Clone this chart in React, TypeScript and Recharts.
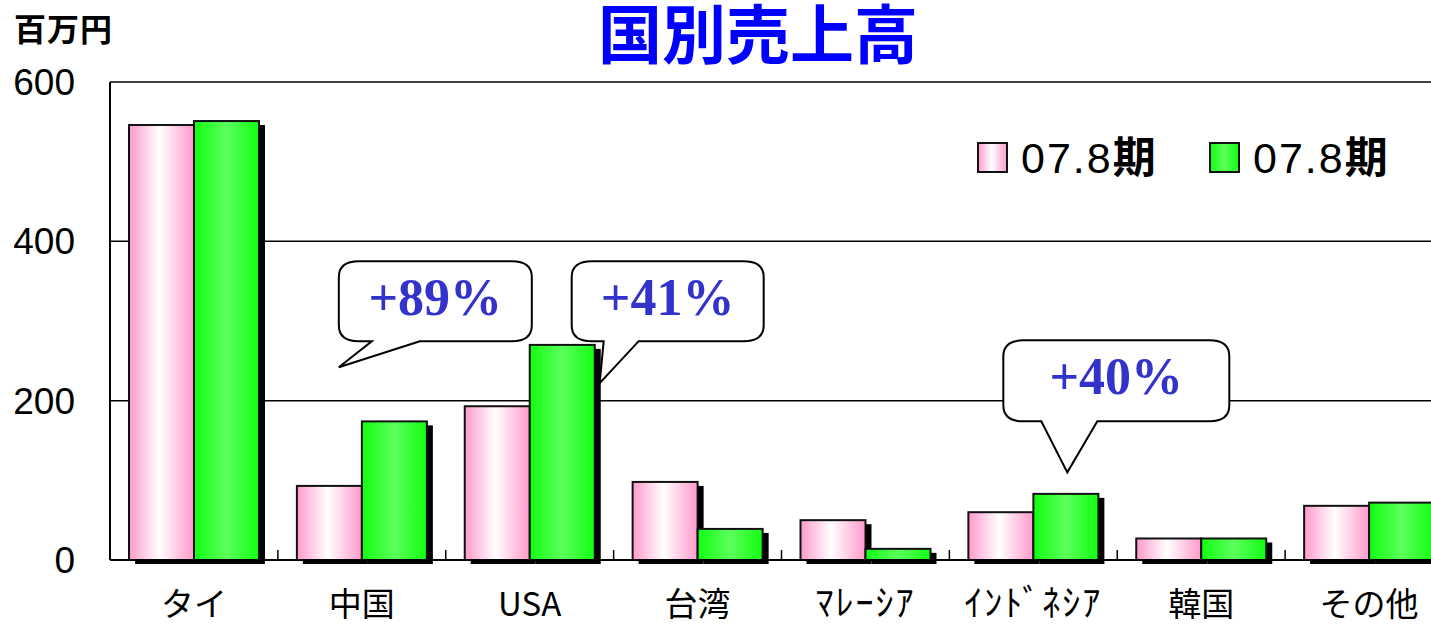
import React from 'react';
import { BarChart, Bar, XAxis, YAxis, CartesianGrid, ReferenceDot } from 'recharts';

// ---------- data ----------
const categories = ['タイ', '中国', 'USA', '台湾', 'ﾏﾚｰｼｱ', 'ｲﾝﾄﾞﾈｼｱ', '韓国', 'その他'];
const prevSales = [546, 93, 193, 98, 50, 60, 27, 68];
const currSales = [551, 174, 270, 39, 14, 83, 27, 72];
const seriesNames = ['07.8期', '07.8期'];
const yTicks = [0, 200, 400, 600];
const calloutLabels = ['+89%', '+41%', '+40%'];
const calloutCategories = ['中国', 'USA', 'ｲﾝﾄﾞﾈｼｱ'];
const calloutTipValues = [242, 222, 110];

const data = categories.map((c, i) => ({ name: c, prev: prevSales[i], curr: currSales[i] }));

// ---------- layout ----------
const CHART_W = 1470;
const CHART_H = 627;
const PLOT_LEFT = 110;
const PLOT_RIGHT = 1453;
const BAND = (PLOT_RIGHT - PLOT_LEFT) / categories.length;

// bubble geometry relative to tip point: [tipDx, boxLeft, boxTop, boxW, boxH, tailL, tailR]
const bubbleGeom = [
  [-23, 0, -106, 193, 80, 33, 81],
  [70, -28, -122, 192, 80, 4, 39],
  [34, -64, -132, 226, 81, -26, 30],
];

const makeShape = (gradId: string) => (props: any) => {
  const { x, y, width, height } = props;
  if (!height || height <= 0) return <g />;
  return (
    <g>
      <rect x={x + 6} y={y + 4} width={width} height={height} fill="#000" />
      <rect x={x} y={y} width={width} height={height} fill={`url(#${gradId})`} stroke="#111" strokeWidth={2} />
    </g>
  );
};

const XTick = (props: any) => {
  const { x, y, payload } = props;
  const half = /[\uFF61-\uFF9F]/.test(payload.value);
  const bx = x - BAND / 2;
  return (
    <g>
      <line x1={bx} y1={y} x2={bx} y2={y - 10} stroke="#000" strokeWidth={1.5} />
      <text
        x={x}
        y={y + 56}
        textAnchor="middle"
        fontSize={half ? 36 : 33}
        fontFamily="'Noto Sans CJK JP', 'Noto Sans', sans-serif"
        letterSpacing={half ? 2 : 0}
        fill="#000"
      >
        {payload.value}
      </text>
    </g>
  );
};

const makeBubble = (idx: number) => (props: any) => {
  const { cx, cy } = props;
  const [tipDx, bl, bt, bw, bh, tl, tr] = bubbleGeom[idx];
  const tx = cx + tipDx;
  const ty = cy;
  const L = tx + bl;
  const T = ty + bt;
  const R = L + bw;
  const B = T + bh;
  const rx = 20;
  const ry = 16;
  const d = [
    `M ${L + rx} ${T}`,
    `H ${R - rx}`,
    `Q ${R} ${T} ${R} ${T + ry}`,
    `V ${B - ry}`,
    `Q ${R} ${B} ${R - rx} ${B}`,
    `H ${tx + tr}`,
    `L ${tx} ${ty}`,
    `L ${tx + tl} ${B}`,
    `H ${L + rx}`,
    `Q ${L} ${B} ${L} ${B - ry}`,
    `V ${T + ry}`,
    `Q ${L} ${T} ${L + rx} ${T}`,
    'Z',
  ].join(' ');
  return (
    <g>
      <path d={d} fill="#fff" stroke="#000" strokeWidth={2} />
      <text
        x={(L + R) / 2}
        y={T + 54}
        textAnchor="middle"
        fontSize={52}
        fontWeight="bold"
        fontFamily="'Liberation Serif', 'DejaVu Serif', serif"
        fill="#3333cc"
      >
        {calloutLabels[idx]}
      </text>
    </g>
  );
};

export default function App() {
  const legendFills = ['url(#pinkGrad)', 'url(#greenGrad)'];
  return (
    <div
      style={{
        position: 'fixed',
        left: 0,
        top: 0,
        width: 1431,
        height: 627,
        overflow: 'hidden',
        background: '#fff',
      }}
    >
      <BarChart
        width={CHART_W}
        height={CHART_H}
        data={data}
        margin={{ top: 82, right: CHART_W - PLOT_RIGHT, bottom: 7, left: 10 }}
        barGap={0}
        barSize={65}
      >
        <defs>
          <linearGradient id="pinkGrad" x1="0" y1="0" x2="1" y2="0">
            <stop offset="0" stopColor="#ff99cc" />
            <stop offset="0.47" stopColor="#ffffff" />
            <stop offset="1" stopColor="#ff99cc" />
          </linearGradient>
          <linearGradient id="greenGrad" x1="0" y1="0" x2="1" y2="0">
            <stop offset="0" stopColor="#11ff11" />
            <stop offset="0.5" stopColor="#5cff5c" />
            <stop offset="1" stopColor="#11ff11" />
          </linearGradient>
        </defs>
        <CartesianGrid vertical={false} stroke="#000" strokeWidth={1.5} />
        <XAxis
          dataKey="name"
          height={60}
          tickLine={false}
          tickSize={0}
          tickMargin={0}
          axisLine={{ stroke: '#000', strokeWidth: 2 }}
          tick={<XTick />}
          interval={0}
        />
        <YAxis
          width={100}
          domain={[0, 600]}
          ticks={yTicks}
          tickLine={false}
          tickSize={0}
          tickMargin={35}
          axisLine={{ stroke: '#000', strokeWidth: 2 }}
          tick={{ fontSize: 37, fill: '#000', fontFamily: "'Liberation Sans', Arial, sans-serif" }}
        />
        <Bar dataKey="prev" name={seriesNames[0]} fill="url(#pinkGrad)" shape={makeShape('pinkGrad')} isAnimationActive={false} />
        <Bar dataKey="curr" name={seriesNames[1]} fill="url(#greenGrad)" shape={makeShape('greenGrad')} isAnimationActive={false} />
        {calloutCategories.map((c, i) => (
          <ReferenceDot
            key={c}
            x={c}
            y={calloutTipValues[i]}
            r={0}
            shape={makeBubble(i)}
            ifOverflow="visible"
          />
        ))}
      </BarChart>
      <svg
        width={1431}
        height={627}
        style={{ position: 'absolute', left: 0, top: 0, pointerEvents: 'none' }}
      >
        <text
          x={758}
          y={58}
          textAnchor="middle"
          fontSize={64}
          fontWeight="bold"
          fontFamily="'Noto Sans CJK JP', sans-serif"
          fill="#0000ff"
        >
          国別売上高
        </text>
        <text
          x={14}
          y={41}
          fontSize={32}
          fontWeight="bold"
          fontFamily="'Noto Sans CJK JP', sans-serif"
          fill="#000"
          letterSpacing={1}
        >
          百万円
        </text>
        {seriesNames.map((n, i) => {
          const ox = 975 + i * 232;
          const m = n.match(/^([^\u3000-\u9fff]*)(.*)$/) || ['', n, ''];
          return (
            <g key={i}>
              <rect x={ox + 3} y={143} width={29} height={29} fill={legendFills[i]} stroke="#111" strokeWidth={2} />
              <text
                x={ox + 46}
                y={173}
                fontSize={43}
                letterSpacing={2}
                fontFamily="'Liberation Sans', Arial, sans-serif"
                fill="#000"
              >
                <tspan>{m[1]}</tspan>
                <tspan fontFamily="'Noto Sans CJK JP', sans-serif" fontWeight="bold">
                  {m[2]}
                </tspan>
              </text>
            </g>
          );
        })}
      </svg>
    </div>
  );
}
